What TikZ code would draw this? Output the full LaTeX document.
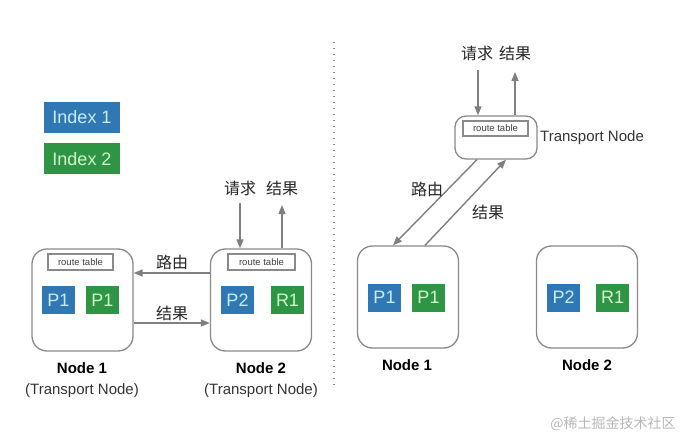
\documentclass[tikz,border=0pt]{standalone}
\usepackage{fontspec}
\setmainfont{Liberation Sans}
\newfontfamily\cjk{Noto Sans CJK SC}
\usetikzlibrary{arrows.meta}
\definecolor{boxgray}{HTML}{8A8A8A}
\definecolor{arrgray}{HTML}{7F7F7F}
\definecolor{idxblue}{HTML}{2F78B4}
\definecolor{idxgreen}{HTML}{2E9545}
\definecolor{blueText}{HTML}{C9ECFF}
\definecolor{greenText}{HTML}{CFF7C8}
\definecolor{wmgray}{HTML}{B8B8B8}
\tikzset{
  nodebox/.style={draw=boxgray, line width=1.3pt, rounded corners=15pt, minimum width=101pt, minimum height=102pt, inner sep=0pt},
  tnodebox/.style={draw=boxgray, line width=1.3pt, rounded corners=11pt, minimum width=82pt, minimum height=43pt, inner sep=0pt},
  rtable/.style={draw=boxgray, line width=1.3pt, minimum width=65pt, minimum height=16pt, inner sep=0pt, font=\fontsize{9.5}{9.5}\selectfont, text=black!75},
  bshard/.style={fill=idxblue, minimum width=33pt, minimum height=28pt, inner sep=0pt, text=blueText, font=\fontsize{18}{18}\selectfont},
  gshard/.style={fill=idxgreen, minimum width=33pt, minimum height=28pt, inner sep=0pt, text=greenText, font=\fontsize{18}{18}\selectfont},
  legend/.style={minimum width=76pt, minimum height=31pt, inner sep=0pt, font=\fontsize{18}{18}\selectfont},
  conn/.style={draw=arrgray, line width=1.4pt, -{Triangle[length=9pt,width=7pt]}},
  cjklabel/.style={font=\cjk\fontsize{16}{16}\selectfont, text=black!85, inner sep=0pt},
  nodename/.style={font=\bfseries\fontsize{15}{15}\selectfont, inner sep=0pt},
  subname/.style={font=\fontsize{15}{15}\selectfont, text=black!80, inner sep=0pt},
}
\begin{document}
\begin{tikzpicture}[x=1pt, y=-1pt]
\useasboundingbox (0,0) rectangle (692,446);
\fill[white] (0,0) rectangle (692,446);

% legend
\node[legend, fill=idxblue, text=blueText] (ix1) at (82,117.5) {Index 1};
\node[legend, fill=idxgreen, text=greenText] (ix2) at (82,159) {Index 2};

% dotted separator
\draw[boxgray, line width=1.2pt, dash pattern=on 1.2pt off 4.8pt] (334,42) -- (334,390);

% ---------- left half ----------
\node[nodebox] (n1l) at (82.5,300) {};
\node[rtable] (rt1) at (80.5,262) {route table};
\node[bshard] (p1lb) at (58.5,300) {P1};
\node[gshard] (p1lg) at (102.5,300) {P1};

\node[nodebox] (n2l) at (261,300) {};
\node[rtable, minimum width=67pt] (rt2) at (261.5,262) {route table};
\node[bshard] (p2lb) at (237.5,300) {P2};
\node[gshard] (r1lg) at (287.5,300) {R1};

\draw[conn] ([yshift=27pt]n2l.west) -- ([yshift=27pt]n1l.east);
\draw[conn] ([yshift=-23pt]n1l.east) -- ([yshift=-23pt]n2l.west);
\node[cjklabel] (lr1) at (172,262) {路由};
\node[cjklabel] (lj1) at (172,313) {结果};

\coordinate (reqL) at (240,203);
\coordinate (resL) at (282,205);
\draw[conn] (reqL) -- ([xshift=-21pt]n2l.north);
\draw[conn] ([xshift=21pt]n2l.north) -- (resL);
\node[cjklabel] (lq2) at (240,188) {请求};
\node[cjklabel] (lj2) at (282,188) {结果};

\node[nodename] (nn1l) at (82,368) {Node 1};
\node[subname] (sn1l) at (82,391) {(Transport Node)};
\node[nodename] (nn2l) at (261,368) {Node 2};
\node[subname] (sn2l) at (261,391) {(Transport Node)};

% ---------- right half ----------
\node[tnodebox] (tn) at (496,137.5) {};
\node[rtable, minimum height=15pt] (rt3) at (495.5,128.5) {route table};
\node[subname, anchor=west] (tnl) at (540,138) {Transport Node};

\coordinate (reqR) at (478,70);
\coordinate (resR) at (515,72);
\draw[conn] (reqR) -- ([xshift=-18pt]tn.north);
\draw[conn] ([xshift=19pt]tn.north) -- (resR);
\node[cjklabel] (lq3) at (477,53) {请求};
\node[cjklabel] (lj3) at (515,53) {结果};

\node[nodebox] (n1r) at (408,297) {};
\node[bshard] (p1rb) at (384.5,297.5) {P1};
\node[gshard] (p1rg) at (428.5,297.5) {P1};

\node[nodebox] (n2r) at (587,297) {};
\node[bshard] (p2rb) at (563.5,297.5) {P2};
\node[gshard] (r1rg) at (612.5,297.5) {R1};

\draw[conn] ([xshift=-19pt]tn.south) -- ([xshift=-15pt]n1r.north);
\draw[conn] ([xshift=17pt]n1r.north) -- ([xshift=10pt]tn.south);
\node[cjklabel] (lr3) at (427,189) {路由};
\node[cjklabel] (lj4) at (488,212) {结果};

\node[nodename] (nn1r) at (407,365) {Node 1};
\node[nodename] (nn2r) at (587,365) {Node 2};

\node[font=\cjk\fontsize{14}{14}\selectfont, text=wmgray, inner sep=0pt] (wm) at (613,424) {@稀土掘金技术社区};
\end{tikzpicture}
\end{document}
